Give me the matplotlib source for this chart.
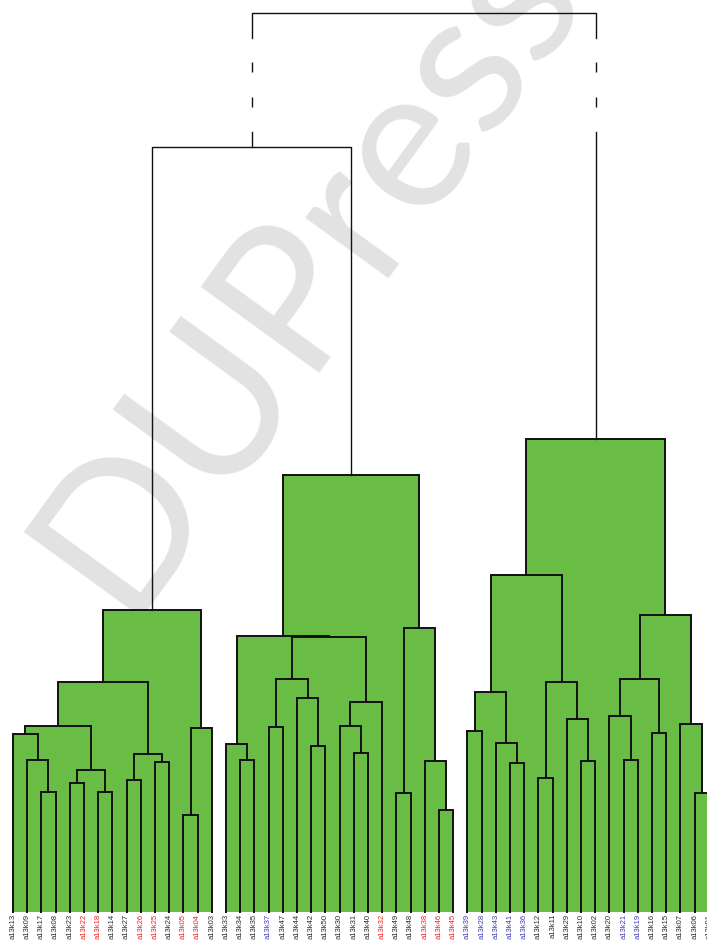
import matplotlib
matplotlib.use("Agg")
import matplotlib.pyplot as plt

plt.rcParams['lines.scale_dashes'] = False

# leaf order as drawn, left to right
labels = ['a13k13', 'a13k09', 'a13k17', 'a13k08', 'a13k23', 'a13k22', 'a13k18', 'a13k14',
          'a13k27', 'a13k26', 'a13k25', 'a13k24', 'a13k05', 'a13k04', 'a13k03',
          'a13k33', 'a13k34', 'a13k35', 'a13k37', 'a13k47', 'a13k44', 'a13k42', 'a13k50',
          'a13k30', 'a13k31', 'a13k40', 'a13k32', 'a13k49', 'a13k48', 'a13k38', 'a13k46', 'a13k45',
          'a13k39', 'a13k28', 'a13k43', 'a13k41', 'a13k36', 'a13k12', 'a13k11', 'a13k29',
          'a13k10', 'a13k02', 'a13k20', 'a13k21', 'a13k19', 'a13k16', 'a13k15', 'a13k07',
          'a13k06', 'a13k01']

# k = black, r = red, b = blue
label_groups = ['k', 'k', 'k', 'k', 'k', 'r', 'r', 'k', 'k', 'r', 'r', 'k', 'r', 'r', 'k',
                'k', 'k', 'k', 'b', 'k', 'k', 'k', 'k', 'k', 'k', 'k', 'r', 'k', 'k', 'r', 'r', 'r',
                'b', 'b', 'b', 'b', 'b', 'k', 'k', 'k', 'k', 'k', 'k', 'b', 'b', 'k', 'k', 'k',
                'k', 'k']

# merges: (child a, child b, height); leaves are 0..49, merge i gets id 50 + i
linkage = [
    (2, 3, 12.0), (1, 50, 15.2), (0, 51, 17.8), (4, 5, 12.9), (6, 7, 12.0),
    (53, 54, 14.2), (52, 55, 18.6), (8, 9, 13.2), (10, 11, 15.0), (57, 58, 15.8),
    (56, 59, 23.0), (12, 13, 9.7), (61, 14, 18.4), (60, 62, 30.2),
    (16, 17, 15.2), (15, 64, 16.8), (18, 19, 18.5), (21, 22, 16.6), (20, 67, 21.4),
    (66, 68, 23.3), (24, 25, 15.9), (23, 70, 18.6), (71, 26, 21.0), (69, 72, 27.5),
    (65, 73, 27.6), (27, 28, 11.9), (30, 31, 10.2), (29, 76, 15.1), (75, 77, 28.4),
    (74, 78, 43.7),
    (32, 33, 18.1), (35, 36, 14.9), (34, 81, 16.9), (80, 82, 22.0), (37, 38, 13.4),
    (40, 41, 15.1), (39, 85, 19.3), (84, 86, 23.0), (83, 87, 33.7), (43, 44, 15.2),
    (42, 89, 19.6), (45, 46, 17.9), (90, 91, 23.3), (48, 49, 11.9), (47, 93, 18.8),
    (92, 94, 29.7), (88, 95, 47.3),
    (63, 79, 76.5), (97, 96, 89.9),
]
n_unfilled = 2          # the two top joins are plain lines
axis_break = (78.0, 87.4)

green = '#69bd45'
text_colors = {'k': '#2a2a2a', 'r': '#f02020', 'b': '#3c3cb4'}

fig = plt.figure(figsize=(7.07, 9.40), dpi=100)
ax = fig.add_axes([0, 28 / 940, 1, 912 / 940])
ax.set_xlim(-0.915, 48.87)
ax.set_ylim(0, 91.2)
ax.axis('off')

fig.text(0.175, 0.343, 'DUPress', rotation=54, rotation_mode='anchor',
         ha='left', va='baseline', fontsize=146, family='Lato',
         color='#e2e2e2', zorder=-1)

n = len(labels)
xs = list(range(n))
hs = [0.0] * n
for i, (a, b, h) in enumerate(linkage):
    xa, xb = xs[a], xs[b]
    ha, hb = hs[a], hs[b]
    if i < len(linkage) - n_unfilled:
        ax.fill_between([xa, xb], 0, h, color=green, lw=0, zorder=1)
        ax.plot([xa, xa, xb, xb], [ha, h, h, hb], color='#111111', lw=1.4,
                solid_joinstyle='miter', zorder=3, clip_on=False)
    elif i < len(linkage) - 1:
        ax.plot([xa, xa, xb, xb], [ha, h, h, hb], color='#111111', lw=1.0, zorder=3)
    else:
        lo, hi = axis_break
        ax.plot([xa, xa, xb, xb], [hi, h, h, hi], color='#111111', lw=1.0, zorder=3)
        for x0, h0 in ((xa, ha), (xb, hb)):
            ax.plot([x0, x0], [h0, lo], color='#111111', lw=1.0, zorder=3)
            ax.plot([x0, x0], [lo, hi], color='#111111', lw=1.0, zorder=3,
                    linestyle=(7.2, (7.2, 18.0)))
    xs.append((xa + xb) / 2)
    hs.append(h)

for i, (lab, g) in enumerate(zip(labels, label_groups)):
    ax.text(i, -0.2, lab, rotation=90, ha='center', va='top', fontsize=5.5,
            family='Liberation Sans', color=text_colors[g])

fig.savefig('out.png', dpi=100)
